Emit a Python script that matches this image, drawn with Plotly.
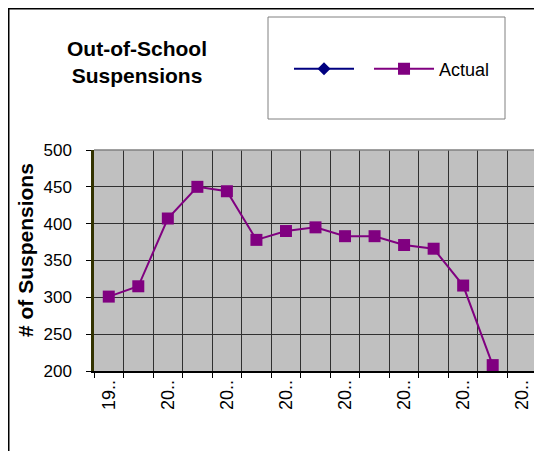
import plotly.graph_objects as go

# ---- data ----
years = ["1999-00", "2000-01", "2001-02", "2002-03", "2003-04", "2004-05",
         "2005-06", "2006-07", "2007-08", "2008-09", "2009-10", "2010-11",
         "2011-12", "2012-13", "2013-14"]
actual = [301, 315, 407, 450, 444, 378, 390, 395, 383, 383, 371, 366, 316, 208, None]
unnamed_series = [None] * len(years)
tick_labels = ["19..", "", "20..", "", "20..", "", "20..", "", "20..", "", "20..", "", "20..", "", "20.."]

FONT = "Liberation Sans, Arial, sans-serif"
OFF = 8  # page body margin
W, H = 542 - OFF, 451 - OFF
L, R, T, B = 94 - OFF, 5, 150 - OFF, 80
pw, ph = W - L - R, H - T - B

def px_x(p):
    # p: window pixel x in the reference
    return (p - OFF - L) / pw

def px_y(p):
    return (H - B - (p - OFF)) / ph

fig = go.Figure()
fig.add_trace(go.Scatter(
    x=years, y=unnamed_series, name=" ", mode="lines+markers",
    line=dict(color="#000080", width=2),
    marker=dict(symbol="diamond", size=10, color="#000080"),
))
fig.add_trace(go.Scatter(
    x=years, y=actual, name="Actual", mode="lines+markers",
    line=dict(color="#800080", width=2),
    marker=dict(symbol="square", size=12, color="#800080"),
))

shapes = [
    # outer chart border
    dict(type="rect", xref="paper", yref="paper",
         x0=px_x(8.75), x1=px_x(540), y0=px_y(8.75), y1=px_y(470),
         line=dict(color="black", width=1.5), layer="above"),
    # legend box
    dict(type="rect", xref="paper", yref="paper",
         x0=px_x(268), x1=px_x(505), y0=px_y(17), y1=px_y(119),
         line=dict(color="#808080", width=1), layer="above"),
    # plot area top/right border
    dict(type="line", xref="paper", yref="paper", x0=0, x1=1, y0=1, y1=1,
         line=dict(color="#808080", width=1.5), layer="above"),
    dict(type="line", xref="paper", yref="paper", x0=1, x1=1, y0=0, y1=1,
         line=dict(color="#808080", width=1.5), layer="above"),
]

fig.update_layout(
    width=W, height=H,
    margin=dict(l=L, r=R, t=T, b=B),
    paper_bgcolor="white",
    plot_bgcolor="#C0C0C0",
    font=dict(family=FONT, size=18, color="black"),
    shapes=shapes,
    showlegend=True,
    legend=dict(orientation="h", x=px_x(289), y=px_y(69), xanchor="left", yanchor="middle",
                bgcolor="rgba(0,0,0,0)", font=dict(size=18), itemwidth=60),
    annotations=[
        dict(text="<b>Out-of-School<br>Suspensions</b>", xref="paper", yref="paper",
             x=px_x(137), y=px_y(62), xanchor="center", yanchor="middle",
             showarrow=False, font=dict(size=21)),
        dict(text="<b># of Suspensions</b>", xref="paper", yref="paper",
             x=px_x(25), y=px_y(250), xanchor="center", yanchor="middle",
             textangle=-90, showarrow=False, font=dict(size=21)),
    ],
)

fig.update_xaxes(
    type="category", tickvals=years, ticktext=tick_labels, tickangle=-90,
    tickson="boundaries", ticks="outside", ticklen=5, tickcolor="black",
    showgrid=True, gridcolor="#303030", gridwidth=1,
    showline=True, linecolor="black", linewidth=1.5,
    range=[-0.5, len(years) - 0.5], tickfont=dict(size=18),
)
fig.update_yaxes(
    range=[200, 500], dtick=50, ticks="outside", ticklen=5, tickcolor="black",
    showgrid=True, gridcolor="#303030", gridwidth=1,
    showline=True, linecolor="#333300", linewidth=2.5,
    zeroline=False, tickfont=dict(size=17), ticklabelstandoff=11,
)

fig.write_html("out.html")
